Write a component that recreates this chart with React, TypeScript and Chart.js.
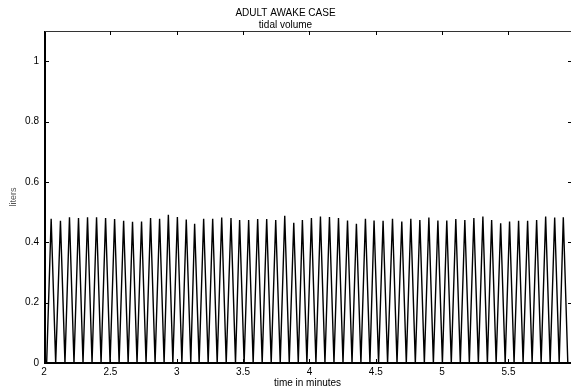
import { useEffect, useRef } from "react";
import { Chart, registerables } from "chart.js";

Chart.register(...registerables);

const FONT = "'Liberation Sans', Arial, Helvetica, sans-serif";

const chartTitle = "ADULT AWAKE CASE";
const chartSubtitle = "tidal volume";
const xAxisLabel = "time in minutes";
const yAxisLabel = "liters";

const xMin = 2;
const xMax = 5.971;
const yMin = 0;
const yMax = 1.1;
const xTickStep = 0.5;
const yTickStep = 0.2;

// end-of-expiration (trough, 0 L) times, minutes
const troughTimes = [
  2.02, 2.088, 2.158, 2.226, 2.294, 2.362, 2.43, 2.498, 2.566, 2.634, 2.701,
  2.769, 2.837, 2.905, 2.971, 3.039, 3.106, 3.169, 3.237, 3.305, 3.373,
  3.443, 3.508, 3.576, 3.644, 3.712, 3.78, 3.848, 3.916, 3.981, 4.049,
  4.117, 4.185, 4.253, 4.321, 4.388, 4.456, 4.521, 4.589, 4.66, 4.73,
  4.798, 4.866, 4.934, 5.002, 5.069, 5.137, 5.205, 5.273, 5.341, 5.407,
  5.475, 5.542, 5.61, 5.678, 5.746, 5.814, 5.882, 5.947,
];
const troughLiters = troughTimes.map(() => 0);

// end-of-inspiration (peak) times, minutes
const peakTimes = [
  2.054, 2.124, 2.192, 2.26, 2.328, 2.396, 2.464, 2.532, 2.6, 2.667,
  2.735, 2.803, 2.871, 2.937, 3.005, 3.072, 3.135, 3.203, 3.271, 3.339,
  3.409, 3.474, 3.542, 3.61, 3.678, 3.746, 3.814, 3.882, 3.947, 4.015,
  4.083, 4.151, 4.219, 4.287, 4.354, 4.422, 4.487, 4.555, 4.626, 4.696,
  4.764, 4.832, 4.9, 4.968, 5.035, 5.103, 5.171, 5.239, 5.307, 5.373,
  5.441, 5.508, 5.576, 5.644, 5.712, 5.78, 5.848, 5.913,
];
// tidal volume at each peak, liters
const peakLiters = [
  0.478, 0.471, 0.483, 0.48, 0.483, 0.483, 0.48, 0.477, 0.471, 0.468,
  0.469, 0.48, 0.478, 0.491, 0.484, 0.475, 0.461, 0.478, 0.478, 0.482,
  0.48, 0.474, 0.474, 0.477, 0.477, 0.474, 0.488, 0.465, 0.474, 0.48,
  0.485, 0.484, 0.48, 0.472, 0.461, 0.478, 0.472, 0.471, 0.478, 0.469,
  0.478, 0.474, 0.482, 0.472, 0.472, 0.477, 0.474, 0.48, 0.485, 0.474,
  0.463, 0.469, 0.471, 0.471, 0.474, 0.485, 0.482, 0.483,
];

function buildPoints() {
  const pts: { x: number; y: number }[] = [];
  for (let i = 0; i < troughTimes.length; i++) {
    pts.push({ x: troughTimes[i], y: troughLiters[i] });
    if (i < peakTimes.length) pts.push({ x: peakTimes[i], y: peakLiters[i] });
  }
  return pts;
}

const fmt = (v: any) => String(+Number(v).toFixed(2));

const framePlugin = {
  id: "matlabFrame",
  afterDatasetsDraw(chart: any) {
    const { ctx, chartArea: a, scales } = chart;
    const xs = scales.x;
    const ys = scales.y;
    const line = (x1: number, y1: number, x2: number, y2: number) => {
      ctx.beginPath();
      ctx.moveTo(x1, y1);
      ctx.lineTo(x2, y2);
      ctx.stroke();
    };
    ctx.save();
    ctx.strokeStyle = "#000";
    ctx.lineWidth = 2;
    line(a.left + 1, a.top, a.left + 1, a.bottom + 1);
    line(a.left, a.bottom, a.right, a.bottom);
    ctx.lineWidth = 1;
    ctx.strokeStyle = "#333";
    line(a.left, a.top + 0.5, a.right, a.top + 0.5);
    line(a.right + 0.5, a.top, a.right + 0.5, a.bottom);
    ctx.strokeStyle = "#000";
    xs.ticks.forEach((t: any) => {
      const px = Math.round(xs.getPixelForValue(t.value)) + 0.5;
      line(px, a.bottom, px, a.bottom - 4);
      line(px, a.top, px, a.top + 4);
    });
    ys.ticks.forEach((t: any) => {
      const py = Math.round(ys.getPixelForValue(t.value)) + 0.5;
      line(a.left + 1, py, a.left + 5, py);
      line(a.right, py, a.right - 3, py);
    });
    ctx.restore();
  },
};

export default function App() {
  const canvasRef = useRef<HTMLCanvasElement | null>(null);

  useEffect(() => {
    if (!canvasRef.current) return;
    const chart = new Chart(canvasRef.current, {
      type: "line",
      data: {
        datasets: [
          {
            data: buildPoints(),
            borderColor: "#000",
            borderWidth: 1.4,
            pointRadius: 0,
            tension: 0,
            fill: false,
          },
        ],
      },
      options: {
        animation: false,
        responsive: true,
        maintainAspectRatio: false,
        layout: { padding: { left: 0, right: 0, top: 0, bottom: 0 } },
        plugins: {
          legend: { display: false },
          tooltip: { enabled: false },
          title: {
            display: true,
            text: chartTitle,
            color: "#000",
            font: { family: FONT, size: 10, weight: "normal" },
            padding: { top: 7, bottom: 0 },
          },
          subtitle: {
            display: true,
            text: chartSubtitle,
            color: "#000",
            font: { family: FONT, size: 10, weight: "normal" },
            padding: { top: 0, bottom: 0 },
          },
        },
        scales: {
          x: {
            type: "linear",
            min: xMin,
            max: xMax,
            grid: { display: false, drawTicks: false },
            border: { display: false },
            ticks: {
              stepSize: xTickStep,
              includeBounds: false,
              autoSkip: false,
              maxRotation: 0,
              padding: 3,
              color: "#000",
              font: { family: FONT, size: 10 },
              callback: fmt,
            },
            title: {
              display: true,
              text: xAxisLabel,
              color: "#000",
              font: { family: FONT, size: 10 },
              padding: { top: 0, bottom: 0 },
            },
            afterFit: (s: any) => {
              s.height = 26;
            },
          },
          y: {
            type: "linear",
            min: yMin,
            max: yMax,
            grid: { display: false, drawTicks: false },
            border: { display: false },
            ticks: {
              stepSize: yTickStep,
              includeBounds: false,
              padding: 5,
              color: "#000",
              font: { family: FONT, size: 10 },
              callback: fmt,
            },
            title: {
              display: true,
              text: yAxisLabel,
              color: "#555",
              font: { family: FONT, size: 9 },
              padding: { top: 8, bottom: 0 },
            },
            afterFit: (s: any) => {
              s.width = 44;
            },
          },
        },
      },
      plugins: [framePlugin],
    });
    return () => chart.destroy();
  }, []);

  return (
    <div
      style={{
        position: "absolute",
        left: 0,
        top: 0,
        width: 571,
        height: 389,
        background: "#fff",
      }}
    >
      <canvas ref={canvasRef} />
    </div>
  );
}
